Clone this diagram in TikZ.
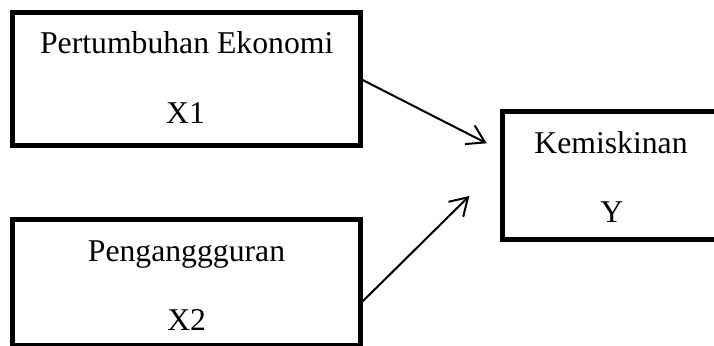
\documentclass[tikz,border=0pt]{standalone}
\usepackage{fontspec}
\setmainfont{Liberation Serif}
\usetikzlibrary{arrows.meta,calc}
\tikzset{
  varbox/.style={draw, line width=4.7pt, rectangle, inner sep=0pt, outer sep=0pt},
  lbl/.style={anchor=base, inner sep=0pt, font=\fontsize{31.7}{38}\selectfont},
  link/.style={line width=2pt, -{Straight Barb[length=17pt,width=21pt,line width=2pt]}}
}
\begin{document}
\begin{tikzpicture}[x=1pt,y=-1pt]
  \clip (0,0) rectangle (714,345);
  % variable boxes
  \node[varbox, minimum width=348pt, minimum height=133.4pt] (b1) at (186.7,79) {};
  \node[varbox, minimum width=348pt, minimum height=125.3pt] (b2) at (186.7,282.35) {};
  \node[varbox, minimum width=227.3pt, minimum height=128pt] (b3) at (616.35,175.7) {};
  % labels
  \node[lbl] (t1a) at (186.7,53) {Pertumbuhan Ekonomi};
  \node[lbl] (t1b) at (185.5,123) {X1};
  \node[lbl] (t2a) at (186.5,261.7) {Penganggguran};
  \node[lbl] (t2b) at (186.7,330) {X2};
  \node[lbl] (t3a) at (611,153.3) {Kemiskinan};
  \node[lbl] (t3b) at (611.7,222.7) {Y};
  % arrow tips
  \coordinate (p1) at (486.7,143.3);
  \coordinate (p2) at (469.3,196);
  \coordinate (s2) at ($(b2.north east)!0.667!(b2.south east)$);
  \draw[link] (b1.east) -- (p1);
  \draw[link] (s2) -- (p2);
\end{tikzpicture}
\end{document}
